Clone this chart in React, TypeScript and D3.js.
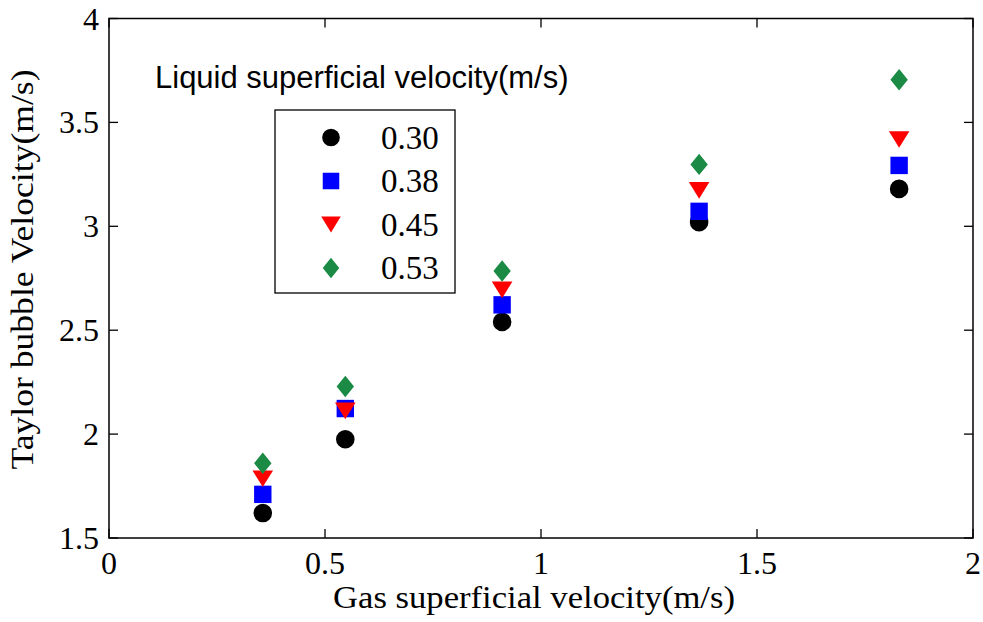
import React from "react";
import * as d3 from "d3";

const gasVelocity = [0.356, 0.547, 0.91, 1.366, 1.829];
const v030 = [1.62, 1.975, 2.54, 3.02, 3.18];
const v038 = [1.71, 2.123, 2.622, 3.072, 3.293];
const v045 = [1.785, 2.112, 2.694, 3.173, 3.418];
const v053 = [1.86, 2.229, 2.785, 3.298, 3.705];
const seriesLabels = ["0.30", "0.38", "0.45", "0.53"];
const xTicks = [0, 0.5, 1, 1.5, 2];
const yTicks = [1.5, 2, 2.5, 3, 3.5, 4];

const W = 983;
const H = 622;
const left = 109;
const right = 973;
const top = 18.5;
const bottom = 538;

const colors = ["#000000", "#0000ff", "#ff0000", "#1b8a45"];
const kinds = ["circle", "square", "triangle", "diamond"];

function markerPath(kind: string): string {
  if (kind === "circle") return d3.symbol(d3.symbolCircle, Math.PI * 9.3 * 9.3)() as string;
  if (kind === "square") {
    const s = 8.7;
    return `M${-s},${-s}L${s},${-s}L${s},${s}L${-s},${s}Z`;
  }
  if (kind === "triangle") {
    const w = 10.3, h = 8.3;
    return `M${-w},${-h}L${w},${-h}L0,${h}Z`;
  }
  const w = 8.7, h = 10.7;
  return `M0,${-h}L${w},0L0,${h}L${-w},0Z`;
}

export default function App() {
  const x = d3.scaleLinear().domain([0, 2]).range([left, right]);
  const y = d3.scaleLinear().domain([1.5, 4]).range([bottom, top]);
  const series = [v030, v038, v045, v053];
  const serif = "'Liberation Serif', 'Times New Roman', serif";
  const sans = "'Liberation Sans', Arial, sans-serif";
  const tl = 9;

  const legendX = 275, legendY = 110, legendW = 180, legendH = 183;
  const entryY = (i: number) => 137.5 + i * 43.5;

  return (
    <svg width={W} height={H} style={{ position: "absolute", left: 0, top: 0, background: "#fff" }}>
      <rect x={0} y={0} width={W} height={H} fill="#fff" />
      {/* ticks */}
      {xTicks.map((t) => (
        <g key={"xt" + t}>
          <line x1={x(t)} x2={x(t)} y1={bottom} y2={bottom - tl} stroke="#000" strokeWidth={1.3} />
          <line x1={x(t)} x2={x(t)} y1={top} y2={top + tl} stroke="#000" strokeWidth={1.3} />
          <text x={x(t)} y={574} textAnchor="middle" fontFamily={serif} fontSize={32}>
            {d3.format("")(t)}
          </text>
        </g>
      ))}
      {yTicks.map((t) => (
        <g key={"yt" + t}>
          <line x1={left} x2={left + tl} y1={y(t)} y2={y(t)} stroke="#000" strokeWidth={1.3} />
          <line x1={right} x2={right - tl} y1={y(t)} y2={y(t)} stroke="#000" strokeWidth={1.3} />
          <text x={99} y={y(t) + 11} textAnchor="end" fontFamily={serif} fontSize={32}>
            {d3.format("")(t)}
          </text>
        </g>
      ))}
      <rect x={left} y={top} width={right - left} height={bottom - top} fill="none" stroke="#000" strokeWidth={1.5} />

      {/* data */}
      {series.map((vals, si) =>
        vals.map((v, i) => (
          <path
            key={si + "-" + i}
            d={markerPath(kinds[si])}
            transform={`translate(${x(gasVelocity[i])},${y(v)})`}
            fill={colors[si]}
          />
        ))
      )}

      {/* legend title */}
      <text x={155} y={88} fontFamily={sans} fontSize={31} fill="#000">
        Liquid superficial velocity(m/s)
      </text>
      {/* legend */}
      <rect x={legendX} y={legendY} width={legendW} height={legendH} fill="#fff" stroke="#000" strokeWidth={1.3} />
      {seriesLabels.map((lab, i) => (
        <g key={lab}>
          <path d={markerPath(kinds[i])} transform={`translate(331,${entryY(i)}) scale(0.95)`} fill={colors[i]} />
          <text x={381} y={entryY(i) + 11} fontFamily={serif} fontSize={33}>
            {lab}
          </text>
        </g>
      ))}

      {/* axis labels */}
      <text x={534} y={608} textAnchor="middle" fontFamily={serif} fontSize={31} textLength={402} lengthAdjust="spacingAndGlyphs">
        Gas superficial velocity(m/s)
      </text>
      <text
        transform={`translate(33,${(450 + 65) / 2 + 12}) rotate(-90)`}
        textAnchor="middle"
        fontFamily={serif}
        fontSize={31}
        textLength={400}
        lengthAdjust="spacingAndGlyphs"
      >
        Taylor bubble Velocity(m/s)
      </text>
    </svg>
  );
}
